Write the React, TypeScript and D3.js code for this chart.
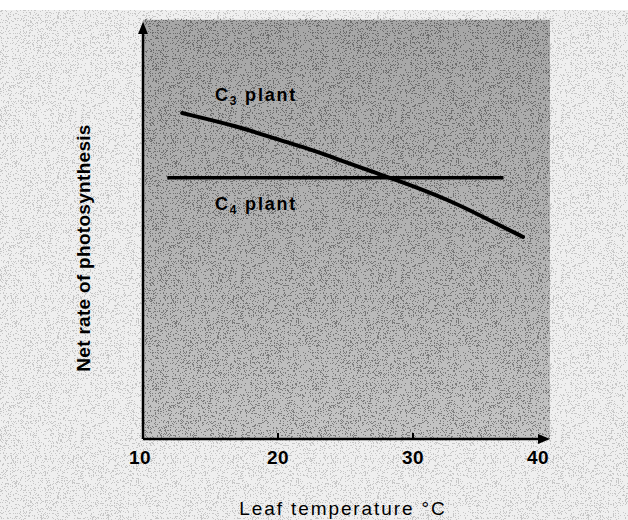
import React from "react";
import * as d3 from "d3";

// C3 plant curve (temperature °C, relative rate)
const c3Temps = [12.9, 17.2, 19.6, 22.15, 24.6, 27.0, 29.0, 32.7, 35.2, 38.15];
const c3Rates = [7.97, 7.63, 7.36, 7.11, 6.82, 6.53, 6.31, 5.84, 5.43, 4.94];
// C4 plant: flat line
const c4Temps = [11.8, 36.7];
const c4Rates = [6.39, 6.39];
const xTicks = [10, 20, 30, 40];

const W = 628;
const H = 520;

const App: React.FC = () => {
  const x = d3.scaleLinear().domain([10, 40]).range([143, 548]);
  const y = d3.scaleLinear().domain([0, 10]).range([439, 30]);

  const line = d3
    .line<[number, number]>()
    .x((d) => x(d[0]))
    .y((d) => y(d[1]))
    .curve(d3.curveBasis);

  const c3 = c3Temps.map((t, i) => [t, c3Rates[i]] as [number, number]);
  const c4 = c4Temps.map((t, i) => [t, c4Rates[i]] as [number, number]);

  const font = "'Liberation Sans', Arial, sans-serif";
  const px0 = x(10);
  const py0 = y(10.25);
  const pw = x(40) - x(10) + 2;
  const ph = y(0) - y(10.25);

  return (
    <svg
      width={W}
      height={H}
      style={{ position: "absolute", left: 0, top: 0, background: "#fff" }}
      fontFamily={font}
    >
      <defs>
        <filter id="grain" x="0" y="0" width="100%" height="100%">
          <feTurbulence type="fractalNoise" baseFrequency="1.6" numOctaves="1" seed="5" />
          <feColorMatrix type="matrix" values="0 0 0 0 0  0 0 0 0 0  0 0 0 0 0  1 0 0 0 0" />
          <feComponentTransfer>
            <feFuncA type="discrete" tableValues="0 0 0 0 0 0 0 0 0 0 0 0 1 1 1 1 1 1 1 1" />
          </feComponentTransfer>
        </filter>
        <linearGradient id="shade" x1="0" y1="0" x2="0" y2="1">
          <stop offset="0" stopColor="#a6a6a6" />
          <stop offset="0.5" stopColor="#b2b2b2" />
          <stop offset="1" stopColor="#c4c4c4" />
        </linearGradient>
        <marker id="arrow" viewBox="0 0 10 10" refX="5" refY="5" markerWidth="5" markerHeight="5" orient="auto">
          <path d="M0,1 L10,5 L0,9 Z" fill="#000" />
        </marker>
      </defs>

      {/* speckled page */}
      <rect x={0} y={10} width={W} height={H - 10} fill="#efefef" />
      <rect x={0} y={10} width={W} height={H - 10} filter="url(#grain)" opacity={0.16} />
      {/* shaded plot area */}
      <rect x={px0} y={py0} width={pw} height={ph} fill="url(#shade)" />
      <rect x={px0} y={py0} width={pw} height={ph} filter="url(#grain)" opacity={0.35} />

      {/* axes */}
      <line x1={x(10)} y1={y(0)} x2={x(10)} y2={y(10.05)} stroke="#000" strokeWidth={2.5} markerEnd="url(#arrow)" />
      <line x1={x(10)} y1={y(0)} x2={x(40) - 4} y2={y(0)} stroke="#000" strokeWidth={2.5} markerEnd="url(#arrow)" />
      {xTicks.slice(1, 3).map((t) => (
        <line key={t} x1={x(t)} x2={x(t)} y1={y(0)} y2={y(0) - 6} stroke="#000" strokeWidth={2} />
      ))}
      {xTicks.map((t, i) => (
        <text
          key={t}
          x={x(t) + (i === 0 ? -3 : i === xTicks.length - 1 ? -10 : 0)}
          y={y(0) + 25}
          textAnchor="middle"
          fontSize={19}
          fontWeight="bold"
          letterSpacing={0.5}
        >
          {t}
        </text>
      ))}

      {/* series */}
      <path d={line(c3) || ""} fill="none" stroke="#000" strokeWidth={4} strokeLinecap="round" />
      <path d={line(c4) || ""} fill="none" stroke="#000" strokeWidth={3.5} />

      <text x={215} y={101} fontSize={18} fontWeight="bold" letterSpacing={1.8}>
        C<tspan fontSize={12} dy={4}>3</tspan>
        <tspan dy={-4}> plant</tspan>
      </text>
      <text x={215} y={210} fontSize={18} fontWeight="bold" letterSpacing={1.8}>
        C<tspan fontSize={12} dy={4}>4</tspan>
        <tspan dy={-4}> plant</tspan>
      </text>

      {/* axis titles */}
      <text
        transform={`translate(${90},${248}) rotate(-90)`}
        textAnchor="middle"
        fontSize={19}
        fontWeight="bold"
        letterSpacing={0.3}
      >
        Net rate of photosynthesis
      </text>
      <text x={343} y={515} textAnchor="middle" fontSize={19} letterSpacing={1.9}>
        Leaf temperature °C
      </text>
    </svg>
  );
};

export default App;
